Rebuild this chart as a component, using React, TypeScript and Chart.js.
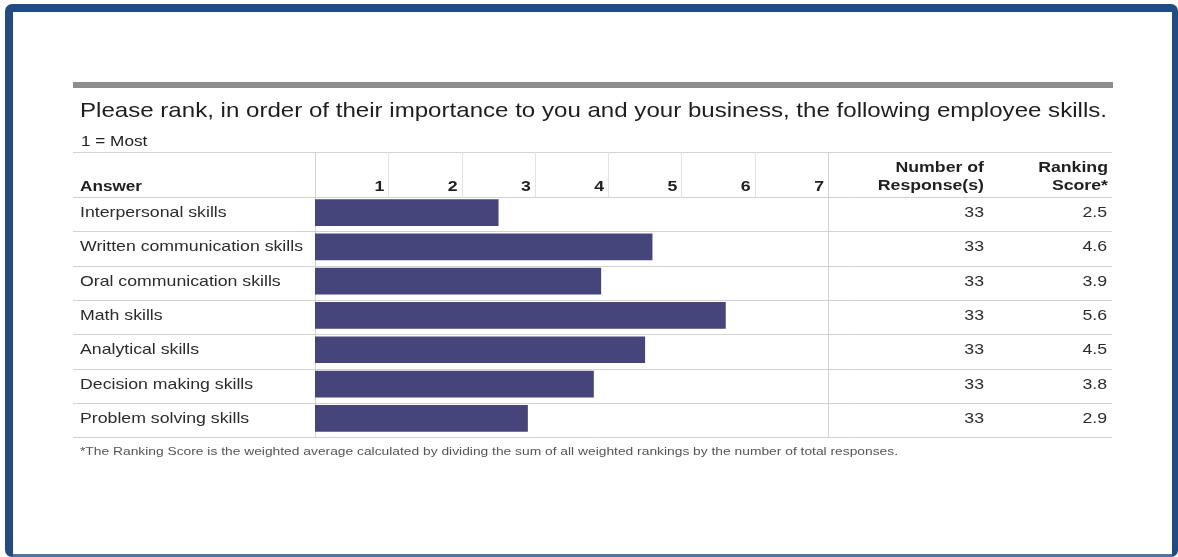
import React, { useEffect, useRef } from "react";
import { Chart, registerables } from "chart.js";

Chart.register(...registerables);

const answers = [
  "Interpersonal skills",
  "Written communication skills",
  "Oral communication skills",
  "Math skills",
  "Analytical skills",
  "Decision making skills",
  "Problem solving skills",
];
const rankingScores = [2.5, 4.6, 3.9, 5.6, 4.5, 3.8, 2.9];
const responseCounts = [33, 33, 33, 33, 33, 33, 33];
const rankTicks = ["1", "2", "3", "4", "5", "6", "7"];
const titleText =
  "Please rank, in order of their importance to you and your business, the following employee skills.";
const subtitleText = "1 = Most";
const answerHeader = "Answer";
const responsesHeader = ["Number of", "Response(s)"];
const scoreHeader = ["Ranking", "Score*"];
const footnoteText =
  "*The Ranking Score is the weighted average calculated by dividing the sum of all weighted rankings by the number of total responses.";

const FONT = '"Liberation Sans", Arial, Helvetica, sans-serif';

function drawScaled(
  ctx: CanvasRenderingContext2D,
  text: string,
  x: number,
  y: number,
  sx: number,
  align: CanvasTextAlign
) {
  ctx.save();
  ctx.translate(x, y);
  ctx.scale(sx, 1);
  ctx.textAlign = align;
  ctx.fillText(text, 0, 0);
  ctx.restore();
}

const tablePlugin = {
  id: "surveyTable",
  beforeDraw(chart: any) {
    const ctx: CanvasRenderingContext2D = chart.ctx;
    const W = chart.width;
    const H = chart.height;
    const xs = chart.scales.x;
    const ys = chart.scales.y;
    ctx.save();
    // page background
    ctx.fillStyle = "#ffffff";
    ctx.fillRect(0, 0, W, H);
    // blue frame
    ctx.fillStyle = "#214b83";
    ctx.beginPath();
    (ctx as any).roundRect(5, 4, W - 5, H - 4, 7);
    ctx.fill();
    ctx.fillStyle = "#ffffff";
    ctx.fillRect(13, 12, 1172 - 13, 554 - 12);
    ctx.fillStyle = "#5174a6";
    ctx.fillRect(13, 554, 1159, 3);

    // gray rule
    ctx.fillStyle = "#8e8e8e";
    ctx.fillRect(73, 82, 1040, 6);

    // table lines
    const n = answers.length;
    const pitch = (ys.bottom - ys.top) / n;
    const lineY = (k: number) => Math.round(ys.top + 1.6 + k * pitch) + 0.5;
    ctx.strokeStyle = "#d2d2d2";
    ctx.lineWidth = 1;
    ctx.beginPath();
    ctx.moveTo(73, 152.5);
    ctx.lineTo(1112, 152.5);
    for (let k = 0; k <= n; k++) {
      ctx.moveTo(73, lineY(k));
      ctx.lineTo(1112, lineY(k));
    }
    const x0 = Math.round(xs.getPixelForValue(0)) + 0.5;
    const x7 = Math.round(xs.getPixelForValue(rankTicks.length)) + 0.5;
    ctx.moveTo(x0, 152);
    ctx.lineTo(x0, lineY(n));
    ctx.moveTo(x7, 152);
    ctx.lineTo(x7, lineY(n));
    ctx.stroke();
    ctx.strokeStyle = "#e2e2e2";
    ctx.beginPath();
    for (let k = 1; k < rankTicks.length; k++) {
      const gx = Math.round(xs.getPixelForValue(k)) + 0.5;
      ctx.moveTo(gx, 152);
      ctx.lineTo(gx, lineY(0));
    }
    ctx.stroke();
    ctx.restore();
  },
  afterDraw(chart: any) {
    const ctx: CanvasRenderingContext2D = chart.ctx;
    const xs = chart.scales.x;
    const ys = chart.scales.y;
    ctx.save();
    ctx.textBaseline = "alphabetic";

    // title
    ctx.font = `21px ${FONT}`;
    ctx.fillStyle = "#1e1e1e";
    const tsx = (1107 - 80) / ctx.measureText(titleText).width;
    drawScaled(ctx, titleText, 80, 117, tsx, "left");

    // body scale
    ctx.font = `15px ${FONT}`;
    const bsx = 223 / ctx.measureText(answers[1]).width;

    ctx.fillStyle = "#222222";
    drawScaled(ctx, subtitleText, 81, 146, bsx * 0.97, "left");

    // header
    ctx.font = `bold 15px ${FONT}`;
    ctx.fillStyle = "#1f1f1f";
    drawScaled(ctx, answerHeader, 80, 191, bsx * 0.97, "left");
    rankTicks.forEach((t, i) => {
      const px = xs.getPixelForValue(i + 1) - 4;
      drawScaled(ctx, t, px, 191, bsx, "right");
    });
    drawScaled(ctx, responsesHeader[0], 984, 172, bsx, "right");
    drawScaled(ctx, responsesHeader[1], 984, 190, bsx, "right");
    drawScaled(ctx, scoreHeader[0], 1108, 172, bsx, "right");
    drawScaled(ctx, scoreHeader[1], 1108, 190, bsx, "right");

    // rows
    ctx.font = `15px ${FONT}`;
    ctx.fillStyle = "#2b2b2b";
    ctx.textBaseline = "middle";
    answers.forEach((a, i) => {
      const cy = ys.getPixelForValue(i) + 0.5;
      drawScaled(ctx, a, 80, cy, bsx, "left");
      drawScaled(ctx, String(responseCounts[i]), 984, cy, bsx, "right");
      drawScaled(ctx, rankingScores[i].toFixed(1), 1107, cy, bsx, "right");
    });

    // footnote
    ctx.textBaseline = "alphabetic";
    ctx.font = `11px ${FONT}`;
    ctx.fillStyle = "#555555";
    const fsx = (898 - 80) / ctx.measureText(footnoteText).width;
    drawScaled(ctx, footnoteText, 80, 455, fsx, "left");
    ctx.restore();
  },
};

export default function App() {
  const canvasRef = useRef<HTMLCanvasElement | null>(null);

  useEffect(() => {
    const canvas = canvasRef.current;
    if (!canvas) return;
    const chart = new Chart(canvas, {
      type: "bar",
      data: {
        labels: answers,
        datasets: [
          {
            label: "Ranking Score",
            data: rankingScores,
            backgroundColor: "#45457b",
            borderWidth: 0,
            barThickness: 26,
          },
        ],
      },
      options: {
        indexAxis: "y",
        responsive: false,
        animation: false,
        devicePixelRatio: 1,
        layout: { padding: { left: 315, right: 350, top: 195.4, bottom: 121.5 } },
        scales: {
          x: { type: "linear", min: 0, max: rankTicks.length, display: false },
          y: { type: "category", display: false },
        },
        plugins: {
          legend: { display: false },
          tooltip: { enabled: false },
          title: { display: false },
        },
      },
      plugins: [tablePlugin as any],
    });
    return () => chart.destroy();
  }, []);

  return (
    <div style={{ position: "absolute", left: 0, top: 0, width: 1178, height: 557 }}>
      <canvas ref={canvasRef} width={1178} height={557} style={{ display: "block" }} />
    </div>
  );
}
